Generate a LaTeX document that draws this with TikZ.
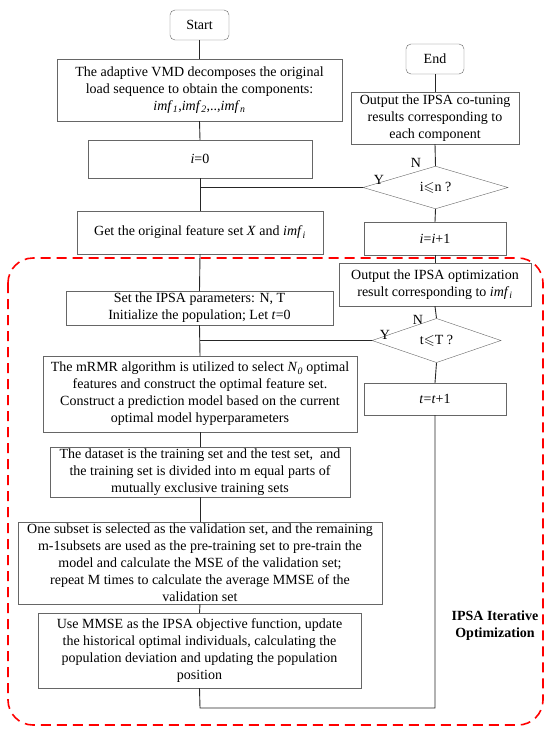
\documentclass[tikz,border=0pt]{standalone}
\usepackage{fontspec}
\usepackage{amssymb}
\setmainfont{Liberation Serif}
\usetikzlibrary{shapes.geometric}

\tikzset{
  procbox/.style={draw=black!60, align=center, inner sep=1pt, fill=white},
  termbox/.style={procbox, rounded corners=5pt},
  decbox/.style={diamond, draw=black!60, inner sep=0pt, fill=white},
  flow/.style={draw=black!85, line width=0.9pt}
}

\begin{document}
\begin{tikzpicture}[x=1pt,y=-1pt,font=\fontsize{14}{17}\selectfont]
  \useasboundingbox (0,0) rectangle (550,731);

  % iterative region
  \draw[red, line width=1.6pt, dash pattern=on 10pt off 6pt, rounded corners=25pt]
    (8,258) rectangle (543,725);
  \node[font=\fontsize{14}{17}\selectfont\bfseries, align=center] (iterlbl) at (495,626)
    {IPSA Iterative\\Optimization};

  % left column
  \node[termbox, minimum width=59, minimum height=30] (start) at (199.5,25) {Start};
  \node[procbox, minimum width=285, minimum height=62] (vmd) at (199.5,90)
    {The adaptive VMD decomposes the original\\load sequence to obtain the components:\\
     \textit{imf}\textsubscript{\textit{1}},\textit{imf}\textsubscript{\textit{2}},..,\textit{imf}\textsubscript{\textit{n}}};
  \node[procbox, minimum width=224, minimum height=38] (izero) at (200,159) {\textit{i}=0};
  \node[procbox, minimum width=246, minimum height=43] (getx) at (200,232.5)
    {Get the original feature set \textit{X} and \textit{imf}\textsubscript{\textit{i}}};
  \node[procbox, minimum width=267, minimum height=34] (setp) at (199.5,308)
    {Set the IPSA parameters: N, T\\Initialize the population; Let \textit{t}=0};
  \node[procbox, minimum width=314, minimum height=76] (mrmr) at (200,394)
    {The mRMR algorithm is utilized to select \textit{N}\textsubscript{\textit{0}} optimal\\
     features and construct the optimal feature set.\\
     Construct a prediction model based on the current\\
     optimal model hyperparameters};
  \node[procbox, minimum width=300, minimum height=50] (dset) at (200,472)
    {The dataset is the training set and the test set,~ and\\
     the training set is divided into m equal parts of\\
     mutually exclusive training sets};
  \node[procbox, minimum width=364, minimum height=82] (subset) at (200,563)
    {One subset is selected as the validation set, and the remaining\\
     m-1subsets are used as the pre-training set to pre-train the\\
     model and calculate the MSE of the validation set;\\
     repeat M times to calculate the average MMSE of the\\
     validation set};
  \node[procbox, minimum width=323, minimum height=75] (mmse) at (199.5,650.5)
    {Use MMSE as the IPSA objective function, update\\
     the historical optimal individuals, calculating the\\
     population deviation and updating the population\\
     position};

  % right column
  \node[termbox, minimum width=58, minimum height=30] (endn) at (435,59) {End};
  \node[procbox, minimum width=168, minimum height=52] (cotune) at (435,118)
    {Output the IPSA co-tuning\\results corresponding to\\each component};
  \node[decbox, minimum width=145, minimum height=39] (dia1) at (435.5,187.5)
    {i$\leqslant$n ?};
  \node[procbox, minimum width=142, minimum height=33] (ipone) at (435,238.5)
    {\textit{i}=\textit{i}+1};
  \node[procbox, minimum width=192, minimum height=43] (outopt) at (435,284.5)
    {Output the IPSA optimization\\result corresponding to \textit{imf}\textsubscript{\textit{i}}};
  \node[decbox, minimum width=129, minimum height=35] (dia2) at (436.5,340.5)
    {t$\leqslant$T ?};
  \node[procbox, minimum width=142, minimum height=32] (tone) at (435,399)
    {\textit{t}=\textit{t}+1};

  % branch labels
  \node (n1) at (416,163) {N};
  \node (y1) at (379,180) {Y};
  \node (n2) at (418,320) {N};
  \node (y2) at (385,335) {Y};

  % connectors
  \coordinate (j1) at (200,187.5);
  \coordinate (j2) at (200,340.5);
  \coordinate (b1) at (200,708);
  \coordinate (b2) at (435,708);
  \foreach \a/\b in {start/vmd,vmd/izero,izero/getx,getx/setp,setp/mrmr,mrmr/dset,dset/subset,subset/mmse}
    \draw[flow] (\a.south) -- (\b.north);
  \foreach \a/\b in {endn/cotune,cotune/dia1,dia1/ipone,ipone/outopt,outopt/dia2,dia2/tone}
    \draw[flow] (\a.south) -- (\b.north);
  \draw[flow] (j1) -- (dia1.west);
  \draw[flow] (j2) -- (dia2.west);
  \draw[flow] (mmse.south) -- (b1) -- (b2) -- (tone.south);
\end{tikzpicture}
\end{document}
